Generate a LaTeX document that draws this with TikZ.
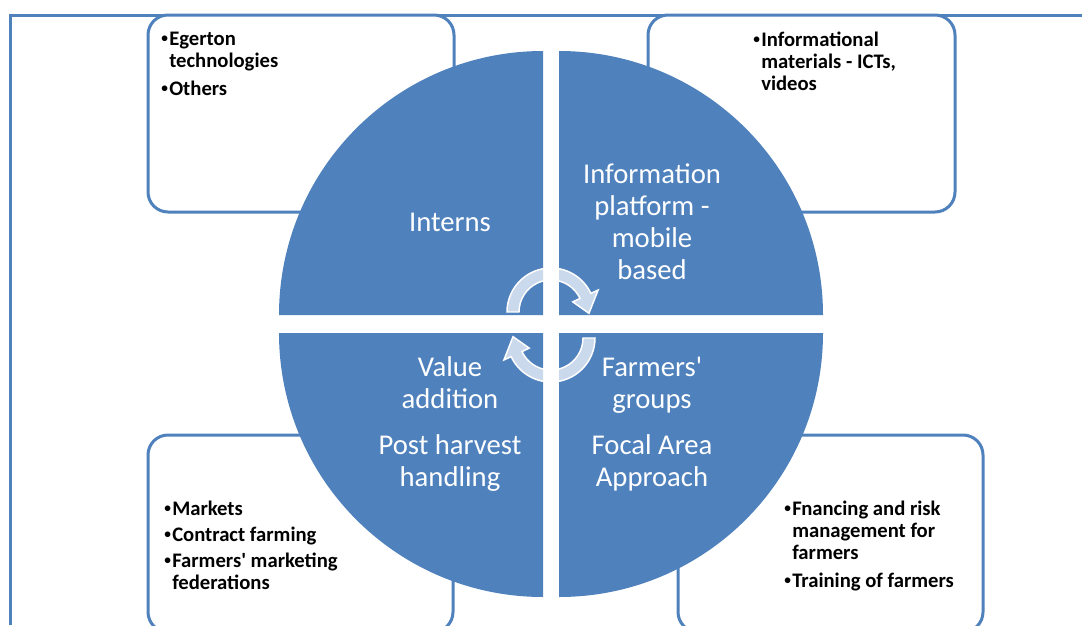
\documentclass[tikz,border=0pt]{standalone}
\usepackage{fontspec}
\setmainfont{Carlito}
\usetikzlibrary{positioning}
\definecolor{pieblue}{HTML}{4F81BD}
\newcommand\blt{\makebox[6pt][l]{\raisebox{2.2pt}{\fontsize{10}{10}\selectfont\textbullet}}}
\newcommand\hng{\hspace*{6pt}}
\tikzset{
  frameline/.style={draw=pieblue,line width=2.25pt},
  boxline/.style={frameline,rounded corners=15pt,fill=white},
  pietext/.style={text=white,align=center,inner sep=0pt,
    font=\fontsize{21.5}{24}\selectfont},
  listtext/.style={anchor=north west,align=left,inner sep=0pt,
    font=\bfseries\fontsize{15.5}{16.5}\selectfont},
  cyclearrow/.style={draw=white,line width=1.1pt,fill=white,fill opacity=0.7}
}
\begin{document}
\begin{tikzpicture}[x=0.75pt,y=-0.75pt]
  \def\R{264}
  \clip (0,0) rectangle (1082,625);
  % frame and the four side boxes
  \draw[frameline] (10,625) -- (10,15) -- (1082,15);
  \draw[boxline] (148,15) rectangle (454,212);
  \draw[boxline] (648,15) rectangle (955,212);
  \draw[boxline] (148,435) rectangle (453,632);
  \draw[boxline] (678,435) rectangle (983,632);
  \node[listtext] (egerton) at (161,32)
    {\blt Egerton\\\hng technologies\\[4.5pt]\blt Others};
  \node[listtext] (materials) at (753,32)
    {\blt Informational\\\hng materials - ICTs,\\\hng videos};
  \node[listtext] (markets) at (164,501)
    {\blt Markets\\[3pt]\blt Contract farming\\[3pt]\blt Farmers\textquotesingle\ marketing\\\hng federations};
  \node[listtext] (financing) at (784,501)
    {\blt Fnancing and risk\\\hng management for\\\hng farmers\\[4pt]\blt Training of farmers};
  % the four quarters
  \fill[pieblue] (543,315) -- ++(180:\R) arc[start angle=180,end angle=270,radius=\R] -- cycle;
  \fill[pieblue] (559,315) -- ++(270:\R) arc[start angle=270,end angle=360,radius=\R] -- cycle;
  \fill[pieblue] (559,333) -- ++(0:\R) arc[start angle=0,end angle=90,radius=\R] -- cycle;
  \fill[pieblue] (543,333) -- ++(90:\R) arc[start angle=90,end angle=180,radius=\R] -- cycle;
  \node[pietext] (interns) at (450,222) {Interns};
  \node[pietext] (platform) at (652,222) {Information\\platform -\\mobile\\based};
  \node[pietext] (value) at (450,424) {Value\\addition\\[11pt]Post harvest\\handling};
  \node[pietext] (groups) at (652,424) {Farmers\textquotesingle\\groups\\[11pt]Focal Area\\Approach};
  % circular arrows
  \begin{scope}[shift={(551,312)}]
    \filldraw[cyclearrow] (180:44) arc[start angle=180,end angle=335,radius=44]
      -- (335:52) -- (2:38) -- (335:24) -- (335:32)
      arc[start angle=335,end angle=180,radius=32] -- cycle;
  \end{scope}
  \begin{scope}[shift={(551,338)}]
    \filldraw[cyclearrow] (0:44) arc[start angle=0,end angle=155,radius=44]
      -- (155:52) -- (182:38) -- (155:24) -- (155:32)
      arc[start angle=155,end angle=0,radius=32] -- cycle;
  \end{scope}
\end{tikzpicture}
\end{document}
